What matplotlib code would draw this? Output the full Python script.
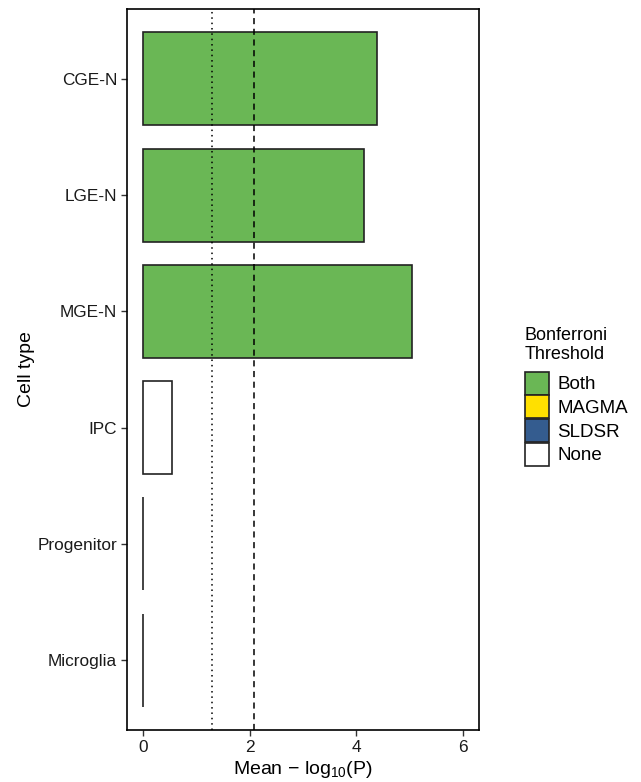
import matplotlib
matplotlib.use("Agg")
import matplotlib.pyplot as plt
from matplotlib.patches import Patch

plt.rcParams['font.family'] = ['Liberation Sans', 'DejaVu Sans']
plt.rcParams['mathtext.fontset'] = 'custom'
plt.rcParams['mathtext.rm'] = 'Liberation Sans'
plt.rcParams['mathtext.it'] = 'Liberation Sans:italic'

cell_types = ["Microglia", "Progenitor", "IPC", "MGE-N", "LGE-N", "CGE-N"]
mean_neglog10p = [0.0, 0.0, 0.54, 5.05, 4.14, 4.39]
threshold_group = ["None", "None", "None", "Both", "Both", "Both"]

legend_levels = ["Both", "MAGMA", "SLDSR", "None"]
level_colors = {"Both": "#6ab755", "MAGMA": "#ffe000", "SLDSR": "#345c8f", "None": "#ffffff"}

nominal_line = 1.301      # -log10(0.05)
bonferroni_line = 2.079   # -log10(0.05 / 6)

fig = plt.figure(figsize=(6.41, 7.82), dpi=100)
ax = fig.add_axes([0.198, 0.0665, 0.549, 0.922])

ypos = list(range(len(cell_types)))
ax.barh(ypos, mean_neglog10p, height=0.8,
        color=[level_colors[g] for g in threshold_group],
        edgecolor="#222222", linewidth=1.2, zorder=2)

ax.axvline(nominal_line, color="black", linestyle=(0, (1, 2.5)), linewidth=1.1, zorder=3)
ax.axvline(bonferroni_line, color="black", linestyle=(0, (4, 3)), linewidth=1.1, zorder=3)

ax.set_xlim(-0.3, 6.3)
ax.set_ylim(-0.6, len(cell_types) - 0.4)
ax.set_xticks([0, 2, 4, 6])
ax.set_yticks(ypos)
ax.set_yticklabels(cell_types)
ax.tick_params(axis="both", labelsize=12.4, length=4, width=1, color="#333333",
               labelcolor="#1a1a1a", pad=3)
for s in ax.spines.values():
    s.set_linewidth(1.2)
    s.set_color("black")

ax.set_xlabel(r"Mean $-$ log$_{10}$(P)", fontsize=14, labelpad=3)
ax.set_ylabel("Cell type", fontsize=14, labelpad=2)

handles = [Patch(facecolor=level_colors[l], edgecolor="#222222", linewidth=1.2, label=l)
           for l in legend_levels]
leg = fig.legend(handles=handles, title="Bonferroni\nThreshold",
                 loc="upper left", bbox_to_anchor=(0.819, 0.582),
                 frameon=False, fontsize=13.5, title_fontsize=13,
                 handlelength=1.28, handleheight=1.5, handletextpad=0.45,
                 labelspacing=0.04, borderaxespad=0, borderpad=0)
leg._legend_box.align = "left"
leg._legend_box.sep = 6

fig.savefig("out.png", dpi=100)
